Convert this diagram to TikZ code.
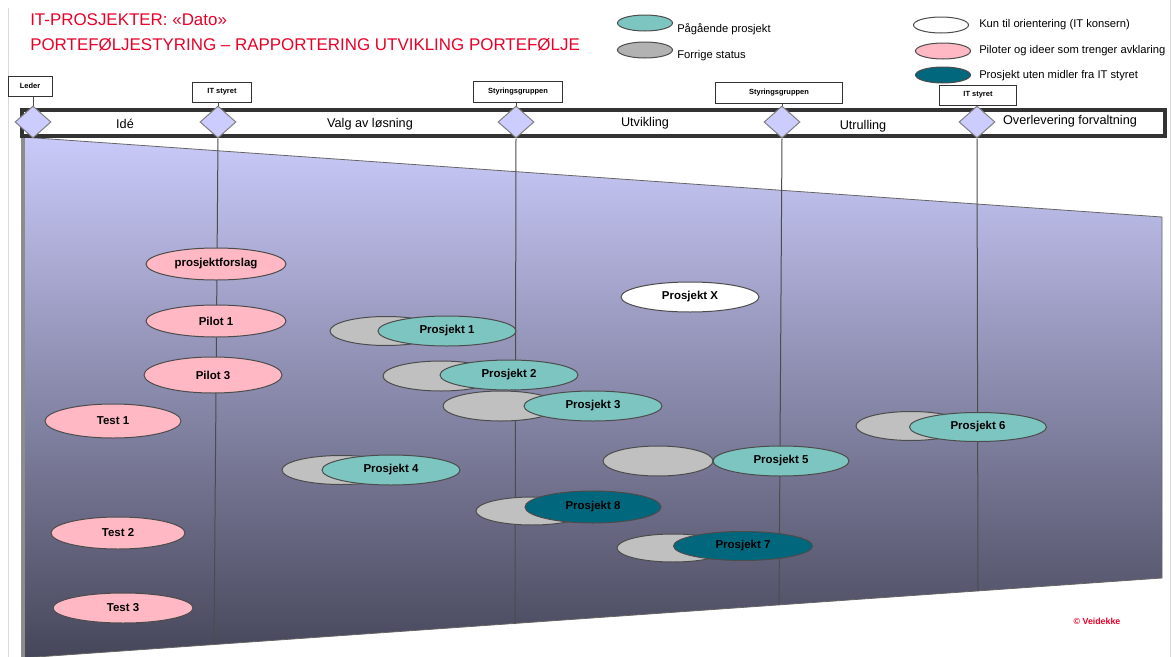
\documentclass[tikz,border=0pt]{standalone}
\usepackage{fontspec}
\setmainfont{Liberation Sans}
\usetikzlibrary{shapes.geometric}
\definecolor{titlered}{RGB}{232,0,40}
\definecolor{pilotpink}{RGB}{255,184,196}
\definecolor{activeteal}{RGB}{124,197,193}
\definecolor{darkteal}{RGB}{0,103,125}
\definecolor{prevgrey}{RGB}{192,192,192}
\definecolor{legendgrey}{RGB}{178,178,178}
\definecolor{gatefill}{RGB}{204,204,255}
\definecolor{funneltop}{RGB}{202,202,250}
\definecolor{funnelbottom}{RGB}{70,70,90}
\begin{document}
\begin{tikzpicture}[x=0.75pt,y=-0.75pt,
  sz/.style 2 args={minimum width=#1*0.75pt, minimum height=#2*0.75pt},
  oval/.style={ellipse, draw=black!70, line width=0.75pt, inner sep=0pt,
    font=\bfseries\fontsize{8.6}{10}\selectfont},
  pilot/.style={oval, fill=pilotpink, sz={140}{32}},
  prev/.style={oval, fill=prevgrey, sz={112}{29}},
  active/.style={oval, fill=activeteal, sz={138}{30}},
  nofund/.style={oval, fill=darkteal, sz={138}{31}},
  info/.style={oval, fill=white, sz={138}{30}},
  legendoval/.style={ellipse, draw=black!70, line width=0.75pt, inner sep=0pt, sz={55}{16}},
  legendtext/.style={anchor=west, inner sep=0pt, font=\fontsize{8.4}{10}\selectfont},
  gate/.style={diamond, draw=black!50, fill=gatefill, line width=0.75pt, inner sep=0pt, sz={36}{32}},
  board/.style={draw=black!80, fill=white, line width=0.75pt, inner sep=0pt,
    font=\bfseries\fontsize{5.6}{7}\selectfont},
  phase/.style={inner sep=0pt, font=\fontsize{9.5}{11}\selectfont},
  stem/.style={draw=black!70, line width=0.75pt}
]
\useasboundingbox (0,0) rectangle (1172,657);

% page edges
\draw[black!15, line width=0.75pt] (8,8) -- (8,657);
\draw[black!15, line width=0.75pt] (1170,0) -- (1170,657);

% title
\node[anchor=west, inner sep=0pt, text=titlered, font=\fontsize{12.7}{15}\selectfont] (title1) at (30,20) {IT-PROSJEKTER: «Dato»};
\node[anchor=west, inner sep=0pt, text=titlered, font=\fontsize{12.7}{15}\selectfont] (title2) at (30,45) {PORTEFØLJESTYRING – RAPPORTERING UTVIKLING PORTEFØLJE};

% legend
\node[legendoval, fill=activeteal] (lg1) at (645,23) {};
\node[legendtext] (lt1) at (677,29) {Pågående prosjekt};
\node[legendoval, fill=legendgrey] (lg2) at (645,50) {};
\node[legendtext] (lt2) at (677,56) {Forrige status};
\node[legendoval, fill=white] (lg3) at (941,25) {};
\node[legendtext] (lt3) at (979,25) {Kun til orientering (IT konsern)};
\node[legendoval, fill=pilotpink] (lg4) at (943,51) {};
\node[legendtext] (lt4) at (979,51) {Piloter og ideer som trenger avklaring};
\node[legendoval, fill=darkteal] (lg5) at (943,75) {};
\node[legendtext] (lt5) at (979,76) {Prosjekt uten midler fra IT styret};

% funnel
\shade[top color=funneltop, bottom color=funnelbottom]
  (22,137) -- (1162,217) -- (1162,578) -- (22,658) -- cycle;
\draw[black!60, line width=0.6pt] (22,137) -- (1162,217) -- (1162,578) -- (22,658);
\draw[black!45, line width=3pt] (23,137) -- (23,658);

% phase bar
\node[draw=black!80, line width=2.4pt, fill=white, minimum width=1143*0.75pt, minimum height=26*0.75pt, inner sep=0pt] (bar) at (593.5,123) {};
\node[phase] (ph1) at (125,124) {Idé};
\node[phase] (ph2) at (370,124) {Valg av løsning};
\node[phase] (ph3) at (645,123) {Utvikling};
\node[phase] (ph4) at (863,126) {Utrulling};
\node[phase] (ph5) at (1070,121) {Overlevering forvaltning};

% gates
\node[gate] (g0) at (33,122) {};
\node[gate] (g1) at (218,122) {};
\node[gate] (g2) at (516,122) {};
\node[gate] (g3) at (782,122) {};
\node[gate] (g4) at (977,122) {};

% decision boards
\node[board, minimum width=44*0.75pt, minimum height=20*0.75pt] (b0) at (30,86) {Leder};
\node[board, minimum width=59*0.75pt, minimum height=20*0.75pt] (b1) at (222,92) {IT styret};
\node[board, minimum width=89*0.75pt, minimum height=21*0.75pt] (b2) at (518,91.5) {Styringsgruppen};
\node[board, minimum width=127*0.75pt, minimum height=21*0.75pt] (b3) at (779,92.5) {Styringsgruppen};
\node[board, minimum width=77*0.75pt, minimum height=20*0.75pt] (b4) at (978,95) {IT styret};
\foreach \g/\b in {g0/b0,g1/b1,g2/b2,g3/b3,g4/b4}
  \draw[stem] (\g.north) -- (\g.north |- \b.south);

% gate lines through the funnel
\coordinate (e1) at (214,644);
\coordinate (e2) at (515,624);
\coordinate (e3) at (779,605);
\coordinate (e4) at (978,591);
\foreach \g/\e in {g1/e1,g2/e2,g3/e3,g4/e4}
  \draw[stem] (\g.south) -- (\e);

% pilots and ideas
\node[pilot] (pf) at (216,264) {prosjektforslag};
\node[pilot] (pi1) at (216,321) {Pilot 1};
\node[pilot, sz={138}{36}] (pi3) at (213,375) {Pilot 3};
\node[pilot, sz={136}{34}] (t1) at (113,421) {Test 1};
\node[pilot, sz={134}{32}] (t2) at (118,533) {Test 2};
\node[pilot, sz={140}{30}] (t3) at (123,608) {Test 3};

% information only
\node[info] (px) at (690,297) {Prosjekt X};

% projects: previous status and current status
\node[prev] (q1) at (386,331) {};
\node[active] (r1) at (447,331) {Prosjekt 1};
\node[prev, sz={116}{30}] (q2) at (441,376) {};
\node[active] (r2) at (509,375) {Prosjekt 2};
\node[prev, sz={116}{30}] (q3) at (501,406) {};
\node[active] (r3) at (593,406) {Prosjekt 3};
\node[prev, sz={118}{29}] (q4) at (341,470) {};
\node[active] (r4) at (391,470) {Prosjekt 4};
\node[prev, sz={110}{30}] (q5) at (658,461) {};
\node[active, sz={136}{30}] (r5) at (781,461) {Prosjekt 5};
\node[prev, sz={110}{29}] (q6) at (911,426) {};
\node[active, sz={137}{29}] (r6) at (978,427) {Prosjekt 6};
\node[prev, sz={112}{28}] (q8) at (532,511) {};
\node[nofund, sz={136}{32}] (r8) at (593,507) {Prosjekt 8};
\node[prev, sz={112}{28}] (q7) at (673,548) {};
\node[nofund, sz={139}{29}] (r7) at (743,546) {Prosjekt 7};

% copyright
\node[inner sep=0pt, text=titlered, font=\bfseries\fontsize{6.6}{8}\selectfont] (copy) at (1097,621) {© Veidekke};
\end{tikzpicture}
\end{document}
